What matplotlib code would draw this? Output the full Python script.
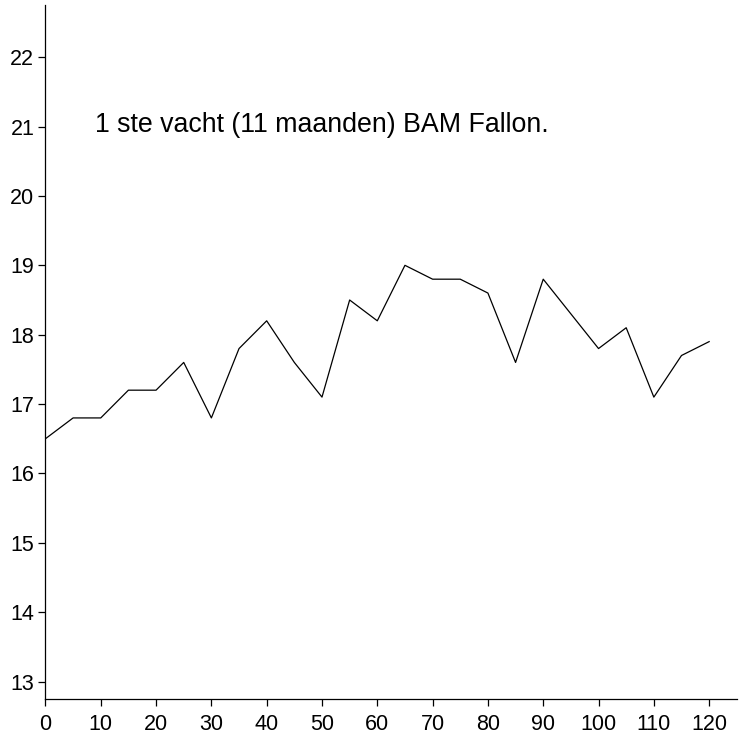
import matplotlib
matplotlib.use("Agg")
import matplotlib.pyplot as plt

plt.rcParams['font.family'] = ['Liberation Sans', 'DejaVu Sans']

# dagen / gewicht
x = [0, 5, 10, 15, 20, 25, 30, 35, 40, 45, 50, 55, 60,
     65, 70, 75, 80, 85, 90, 95, 100, 105, 110, 115, 120]
y = [16.5, 16.8, 16.8, 17.2, 17.2, 17.6, 16.8, 17.8, 18.2, 17.6, 17.1, 18.5, 18.2,
     19.0, 18.8, 18.8, 18.6, 17.6, 18.8, 18.3, 17.8, 18.1, 17.1, 17.7, 17.9]
xticks = list(range(0, 121, 10))
yticks = list(range(13, 23))
title = "1 ste vacht (11 maanden) BAM Fallon."

fig = plt.figure(figsize=(7.45, 7.38), dpi=100)
ax = fig.add_axes([0.061, 0.053, 0.928, 0.940])

ax.plot(x, y, color='black', linewidth=0.9)

ax.set_xlim(0, 125)
ax.set_ylim(12.75, 22.75)
ax.set_xticks(xticks)
ax.set_yticks(yticks)
ax.tick_params(labelsize=15.5, length=5, width=0.9, direction='out')
ax.tick_params(axis='x', pad=6)
ax.tick_params(axis='y', pad=3)

for s in ['top', 'right']:
    ax.spines[s].set_visible(False)
for s in ['left', 'bottom']:
    ax.spines[s].set_linewidth(0.9)

ax.text(9, 20.92, title, fontsize=19.3, va='baseline', ha='left')

fig.savefig("out.png", dpi=100)
